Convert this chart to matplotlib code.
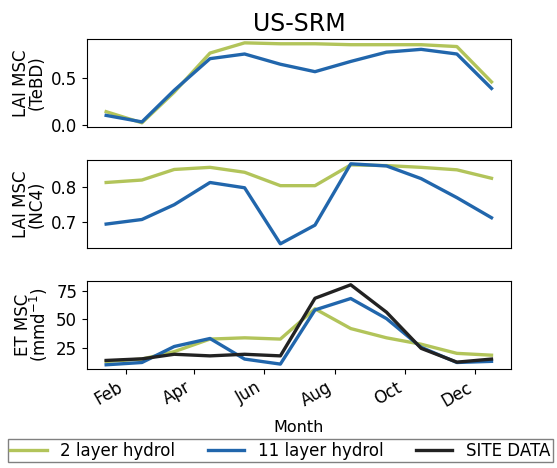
import matplotlib
matplotlib.use("Agg")
import matplotlib.pyplot as plt
import matplotlib.dates as mdates
import numpy as np
import datetime as dt

# monthly seasonal cycle (plotted mid-month)
months = [dt.date(2001, m, 15) for m in range(1, 13)]

lai_tebd_2layer = [0.14, 0.02, 0.35, 0.77, 0.88, 0.87, 0.87, 0.86, 0.86, 0.86, 0.84, 0.46]
lai_tebd_11layer = [0.10, 0.03, 0.37, 0.71, 0.76, 0.65, 0.57, 0.68, 0.78, 0.81, 0.76, 0.39]

lai_nc4_2layer = [0.812, 0.819, 0.849, 0.855, 0.841, 0.803, 0.803, 0.862, 0.860, 0.855, 0.848, 0.824]
lai_nc4_11layer = [0.694, 0.707, 0.749, 0.812, 0.797, 0.638, 0.691, 0.865, 0.859, 0.823, 0.769, 0.712]

et_2layer = [12.9, 15.0, 21.5, 32.5, 33.6, 32.5, 59.0, 41.7, 33.6, 28.0, 20.0, 18.4]
et_11layer = [10.0, 12.0, 26.0, 33.0, 15.0, 10.6, 58.0, 68.0, 50.4, 25.3, 12.0, 13.0]
et_site = [13.8, 15.2, 19.2, 17.8, 19.2, 17.8, 68.2, 80.0, 56.0, 24.4, 12.3, 15.0]

c2 = "#b2c45a"
c11 = "#2166ac"
csite = "#222222"
lw = 2.4

plt.rcParams['font.size'] = 12
plt.rcParams['axes.labelsize'] = 12
plt.rcParams['xtick.labelsize'] = 12
plt.rcParams['ytick.labelsize'] = 12

fig, axes = plt.subplots(3, 1, figsize=(5.57, 4.68), dpi=100, sharex=True)
fig.subplots_adjust(left=0.156, right=0.917, top=0.917, bottom=0.212, hspace=0.375)

ax1, ax2, ax3 = axes

ax1.plot(months, lai_tebd_2layer, color=c2, lw=lw, label='2 layer hydrol')
ax1.plot(months, lai_tebd_11layer, color=c11, lw=lw, label='11 layer hydrol')
ax1.set_ylabel('LAI MSC\n(TeBD)', linespacing=0.8)
ax1.set_yticks([0.0, 0.5])
ax1.set_title('US-SRM', fontsize=17)

ax2.plot(months, lai_nc4_2layer, color=c2, lw=lw)
ax2.plot(months, lai_nc4_11layer, color=c11, lw=lw)
ax2.set_ylabel('LAI MSC\n(NC4)', linespacing=0.8)
ax2.set_yticks([0.7, 0.8])

ax3.plot(months, et_2layer, color=c2, lw=lw)
ax3.plot(months, et_11layer, color=c11, lw=lw)
ax3.plot(months, et_site, color=csite, lw=lw, label='SITE DATA')
ax3.set_ylabel('ET MSC\n(mmd$^{-1}$)', linespacing=0.8)
ax3.set_yticks([25, 50, 75])
ax3.set_xlabel('Month', fontsize=11.5, labelpad=7)

ax3.xaxis.set_major_locator(mdates.MonthLocator(bymonth=[2, 4, 6, 8, 10, 12]))
ax3.xaxis.set_major_formatter(mdates.DateFormatter('%b'))
for lab in ax3.get_xticklabels():
    lab.set_rotation(30)
    lab.set_ha('right')
for ax in (ax1, ax2):
    ax.tick_params(axis='x', bottom=False)

handles = ax1.get_lines() + [ax3.get_lines()[-1]]
fig.legend(handles, [h.get_label() for h in handles], ncol=3,
           loc='lower left', bbox_to_anchor=(0.014, 0.012, 0.978, 0.05),
           mode='expand', fancybox=False, edgecolor='grey', framealpha=1,
           fontsize=12, borderaxespad=0, borderpad=0.15, handlelength=2.2)

fig.savefig('out.png', dpi=100)
